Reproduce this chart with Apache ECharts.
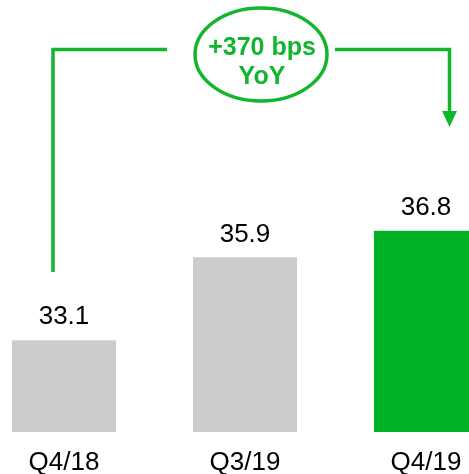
<!DOCTYPE html>
<html>
<head>
<meta charset="utf-8">
<script src="https://cdn.jsdelivr.net/npm/echarts@6/dist/echarts.min.js"></script>
<style>
html,body{margin:0;padding:0;background:#fff;}
#chart{width:469px;height:474px;}
</style>
</head>
<body>
<div id="chart"></div>
<script>
const categories = ['Q4/18', 'Q3/19', 'Q4/19'];
const values = [33.1, 35.9, 36.8];
const barColors = ['#cccccc', '#cccccc', '#00b326'];
const annotationText = '+370 bps\nYoY';

const GREEN = '#12b52e';
const FONT = "'Liberation Sans', Arial, sans-serif";

const chart = echarts.init(document.getElementById('chart'), null, {renderer: 'canvas'});
chart.setOption({
  animation: false,
  backgroundColor: '#ffffff',
  grid: {left: -26.5, right: -47.5, top: 136, bottom: 42, containLabel: false, outerBoundsMode: 'none'},
  xAxis: {
    type: 'category',
    data: categories,
    axisLine: {show: false},
    axisTick: {show: false},
    axisLabel: {color: '#000', fontSize: 26, fontFamily: FONT, margin: 18}
  },
  yAxis: {
    type: 'value',
    min: 30, max: 40,
    show: false,
    splitLine: {show: false}
  },
  series: [{
    type: 'bar',
    barWidth: 104,
    data: values.map((v, i) => ({value: v, itemStyle: {color: barColors[i]}})),
    label: {
      show: true, position: 'top', distance: 10,
      color: '#000', fontSize: 26, fontFamily: FONT,
      formatter: p => p.value.toFixed(1)
    }
  }],
  graphic: [
    {type: 'polyline', shape: {points: [[53, 272], [53, 49.5], [167, 49.5]]},
     style: {stroke: GREEN, lineWidth: 3.5, fill: null}},
    {type: 'polyline', shape: {points: [[335, 49.5], [449.5, 49.5], [449.5, 114]]},
     style: {stroke: GREEN, lineWidth: 3.5, fill: null}},
    {type: 'polygon', shape: {points: [[442, 111], [457, 111], [449.5, 127]]},
     style: {fill: GREEN}},
    {type: 'ellipse', shape: {cx: 261, cy: 54.5, rx: 66, ry: 46.5},
     style: {stroke: GREEN, lineWidth: 3.5, fill: '#fff'}},
    {type: 'text', x: 262, y: 62.5,
     style: {text: annotationText, fill: GREEN, font: 'bold 25px ' + FONT,
             textAlign: 'center', textVerticalAlign: 'middle', lineHeight: 29}}
  ]
});
</script>
</body>
</html>
